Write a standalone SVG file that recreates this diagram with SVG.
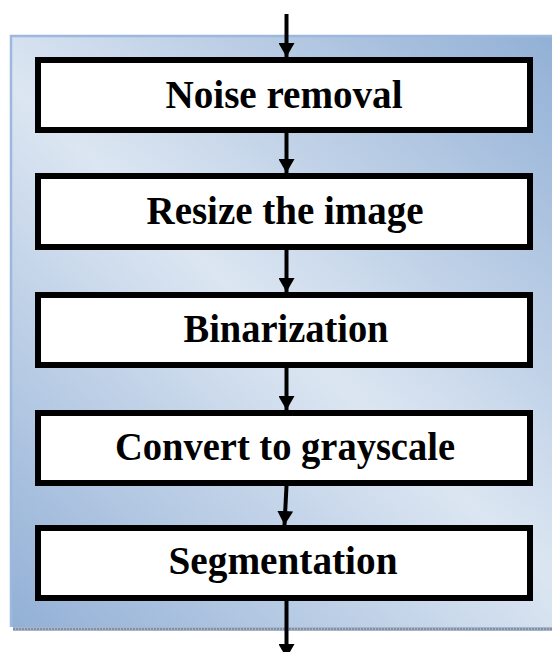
<svg xmlns="http://www.w3.org/2000/svg" width="552" height="652" viewBox="0 0 552 652">
  <style>
    .box { fill: #ffffff; stroke: #000000; stroke-width: 6; }
    .label { font-family: "Liberation Serif", "Times New Roman", serif; font-weight: bold; font-size: 40px; fill: #000000; text-anchor: middle; }
    .conn { stroke: #000000; stroke-width: 4; fill: none; marker-end: url(#head); }
  </style>
  <defs>
    <linearGradient id="panelFill" gradientUnits="userSpaceOnUse" x1="552" y1="35" x2="10" y2="627">
      <stop offset="0" stop-color="#92b0d6"/>
      <stop offset="0.5" stop-color="#dce6f2"/>
      <stop offset="1" stop-color="#92b0d6"/>
    </linearGradient>
    <marker id="head" markerUnits="userSpaceOnUse" markerWidth="16" markerHeight="16" refX="14" refY="8" orient="auto">
      <path d="M0,0 L14,8 L0,16 Z" fill="#000000"/>
    </marker>
  </defs>

  <!-- background panel -->
  <g id="panel">
    <rect x="10" y="35" width="560" height="592" fill="url(#panelFill)"/>
    <path d="M11,627 L11,36 L552,36" fill="none" stroke="#9cb8dc" stroke-width="2.5"/>
    <rect x="13" y="627" width="539" height="4" fill="#a9b6c8"/>
    <line x1="13" y1="629" x2="552" y2="629" stroke="#7f90a8" stroke-width="2" stroke-dasharray="2 1"/>
  </g>

  <!-- connectors -->
  <g id="connectors">
    <line class="conn" x1="286.5" y1="14" x2="286.5" y2="57"/>
    <line class="conn" x1="286.5" y1="133" x2="286.5" y2="173"/>
    <line class="conn" x1="286.5" y1="250" x2="286.5" y2="292"/>
    <line class="conn" x1="286.5" y1="368" x2="286.5" y2="410"/>
    <line class="conn" x1="286.5" y1="486" x2="284.5" y2="525"/>
    <line class="conn" x1="286.5" y1="601" x2="286.5" y2="658"/>
  </g>

  <g id="noise-removal">
    <rect class="box" x="38" y="60" width="492" height="70"/>
    <text class="label" x="284" y="108" textLength="237" lengthAdjust="spacingAndGlyphs">Noise removal</text>
  </g>

  <g id="resize">
    <rect class="box" x="38" y="176" width="492" height="71"/>
    <text class="label" x="285" y="224" textLength="277" lengthAdjust="spacingAndGlyphs">Resize the image</text>
  </g>

  <g id="binarization">
    <rect class="box" x="38" y="295" width="492" height="70"/>
    <text class="label" x="286" y="342" textLength="205" lengthAdjust="spacingAndGlyphs">Binarization</text>
  </g>

  <g id="grayscale">
    <rect class="box" x="38" y="413" width="492" height="70"/>
    <text class="label" x="285" y="460" textLength="340" lengthAdjust="spacingAndGlyphs">Convert to grayscale</text>
  </g>

  <g id="segmentation">
    <rect class="box" x="38" y="528" width="492" height="70"/>
    <text class="label" x="283" y="574" textLength="229" lengthAdjust="spacingAndGlyphs">Segmentation</text>
  </g>
</svg>
